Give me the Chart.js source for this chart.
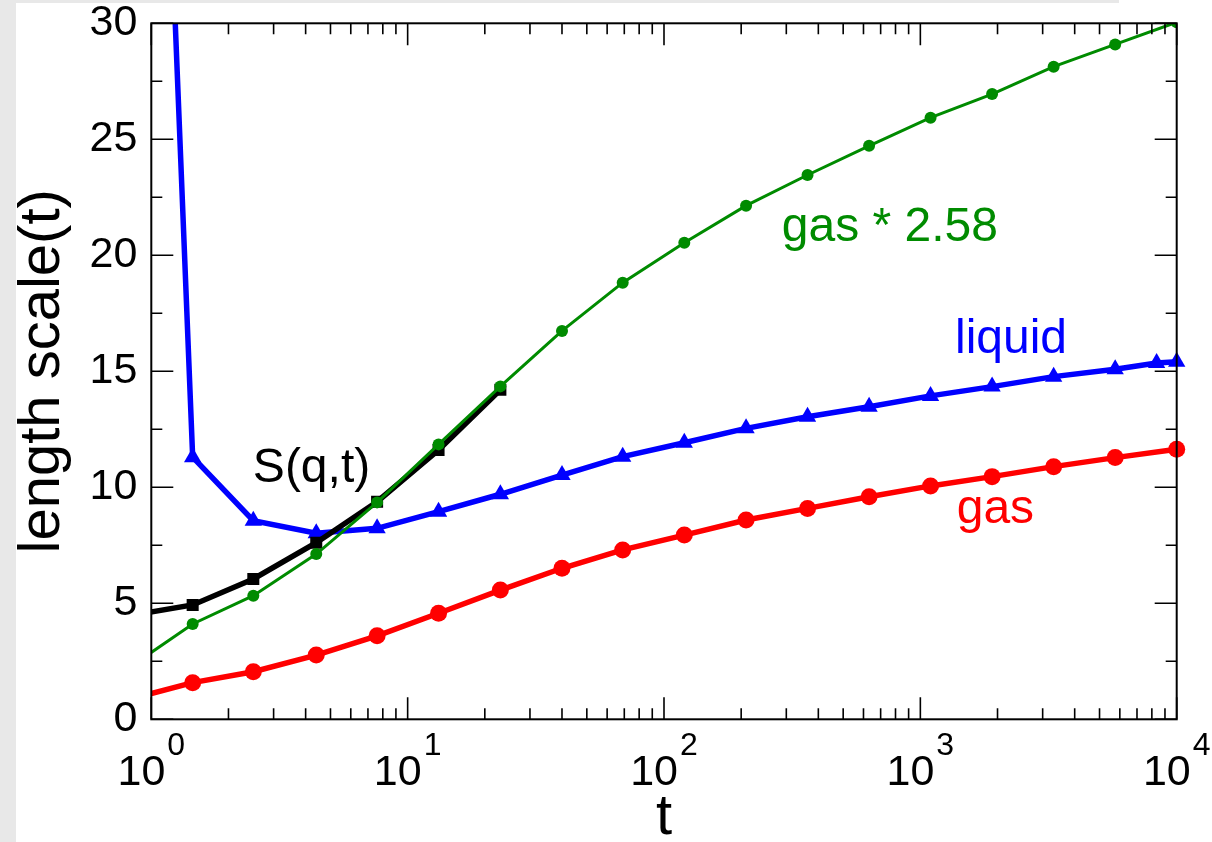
<!DOCTYPE html>
<html>
<head>
<meta charset="utf-8">
<script src="https://cdn.jsdelivr.net/npm/chart.js@4"></script>
<style>
    html, body { margin: 0; padding: 0; background: #ffffff; overflow: hidden; }
    #wrap { position: relative; width: 1212px; height: 842px; }
    .strip { position: absolute; background: #e8e8e8; }
    #leftStrip { left: 0; top: 0; width: 16px; height: 842px; }
    #topStrip { left: 0; top: 0; width: 1119px; height: 3px; }
    canvas { position: absolute; left: 0; top: 0; }
</style>
</head>
<body>
<div id="wrap">
    <div class="strip" id="leftStrip"></div>
    <div class="strip" id="topStrip"></div>
    <canvas id="lengthChart" width="1212" height="842"></canvas>
</div>
<script>
/* ---------------- DATA ---------------- */

// waiting times t (first point sits just left of the axis, off-chart)
const times = [0.83, 1.45, 2.5, 4.4, 7.6, 13.2, 23, 40, 69, 120, 209, 363, 631, 1096, 1905, 3311, 5754, 10000];

const gasValues = [0.88, 1.58, 2.05, 2.77, 3.60, 4.57, 5.57, 6.51, 7.30, 7.94, 8.59, 9.09, 9.59, 10.06, 10.46, 10.89, 11.28, 11.64];

const gasScaledValues = [2.27, 4.11, 5.33, 7.12, 9.35, 11.85, 14.35, 16.74, 18.82, 20.54, 22.14, 23.46, 24.72, 25.93, 26.95, 28.13, 29.09, 30.05];

const sqtTimes = [0.83, 1.45, 2.5, 4.4, 7.6, 13.2, 23];
const sqtValues = [4.48, 4.93, 6.05, 7.61, 9.38, 11.61, 14.2];

const liquidTimes = [0.83, 1.45, 2.5, 4.4, 7.6, 13.2, 23, 40, 69, 120, 209, 363, 631, 1096, 1905, 3311, 5754, 8350, 10000];
const liquidValues = [78, 11.3, 8.56, 8.02, 8.23, 8.95, 9.70, 10.53, 11.32, 11.92, 12.54, 13.04, 13.47, 13.94, 14.34, 14.77, 15.09, 15.36, 15.41];

const xDecades = [0, 1, 2, 3, 4];
const yTickStep = 2.5;

const labelTexts = ["S(q,t)", "gas * 2.58", "liquid", "gas"];
const labelColors = ["#000000", "#008b00", "#0000ff", "#ff0000"];
const labelAt = [[2.49, 10.23], [288, 20.63], [1365, 15.79], [1386, 8.45]];

/* ---------------- HELPERS ---------------- */

const FONT = "'Liberation Sans', Arial, Helvetica, sans-serif";

function toPoints(xs, ys) {
    return xs.map((x, i) => ({ x: x, y: ys[i] }));
}

/* ---------------- FRAME + TICKS ---------------- */

const framePlugin = {
    id: "frame",
    afterDatasetsDraw(chart) {
        const { ctx, chartArea: a, scales: { x, y } } = chart;
        ctx.save();
        ctx.strokeStyle = "#000";
        ctx.lineWidth = 1.6;
        ctx.beginPath();

        // log ticks on bottom and top
        xDecades.forEach(e => {
            for (let m = 1; m <= 9; m++) {
                if (e === 4 && m > 1) break;
                const px = x.getPixelForValue(m * Math.pow(10, e));
                const len = m === 1 ? 22 : 11;
                ctx.moveTo(px, a.bottom); ctx.lineTo(px, a.bottom - len);
                ctx.moveTo(px, a.top); ctx.lineTo(px, a.top + len);
            }
        });

        // linear ticks on left and right
        for (let v = 0; v <= 30; v += yTickStep) {
            const py = y.getPixelForValue(v);
            const len = v % 5 === 0 ? 22 : 11;
            ctx.moveTo(a.left, py); ctx.lineTo(a.left + len, py);
            ctx.moveTo(a.right, py); ctx.lineTo(a.right - len, py);
        }
        ctx.stroke();

        ctx.lineWidth = 2;
        ctx.strokeRect(a.left, a.top, a.right - a.left, a.bottom - a.top);
        ctx.restore();
    },

    afterDraw(chart) {
        const { ctx, chartArea: a, scales: { x, y } } = chart;
        ctx.save();
        ctx.fillStyle = "#000";
        ctx.textBaseline = "alphabetic";

        // 10^n tick labels
        xDecades.forEach(e => {
            const px = x.getPixelForValue(Math.pow(10, e));
            ctx.font = "43px " + FONT;
            const w1 = ctx.measureText("10").width;
            ctx.font = "32px " + FONT;
            const w2 = ctx.measureText(String(e)).width;
            const start = px - (w1 + 2 + w2) / 2;
            ctx.font = "43px " + FONT;
            ctx.textAlign = "left";
            ctx.fillText("10", start, a.bottom + 66);
            ctx.font = "32px " + FONT;
            ctx.fillText(String(e), start + w1 + 2, a.bottom + 36);
        });

        // curve labels
        ctx.font = "48px " + FONT;
        labelTexts.forEach((t, i) => {
            ctx.fillStyle = labelColors[i];
            ctx.fillText(t, x.getPixelForValue(labelAt[i][0]), y.getPixelForValue(labelAt[i][1]));
        });
        ctx.restore();
    }
};

/* ---------------- CHART ---------------- */

const ctx = document.getElementById("lengthChart").getContext("2d");

new Chart(ctx, {
    type: "line",
    data: {
        datasets: [
            {
                label: "gas * 2.58",
                data: toPoints(times, gasScaledValues),
                borderColor: "#008b00",
                backgroundColor: "#008b00",
                borderWidth: 3,
                pointStyle: "circle",
                pointRadius: 6,
                pointBorderWidth: 0,
                order: 1,
                clip: { left: 0, top: 0, right: 0, bottom: 0 }
            },
            {
                label: "S(q,t)",
                data: toPoints(sqtTimes, sqtValues),
                borderColor: "#000000",
                backgroundColor: "#000000",
                borderWidth: 5.5,
                pointStyle: "rect",
                pointRadius: 8.5,
                pointBorderWidth: 0,
                order: 2,
                clip: { left: 0, top: 0, right: 12, bottom: 0 }
            },
            {
                label: "liquid",
                data: toPoints(liquidTimes, liquidValues),
                borderColor: "#0000ff",
                backgroundColor: "#0000ff",
                borderWidth: 5.5,
                pointStyle: "triangle",
                pointRadius: 10,
                pointBorderWidth: 0,
                order: 3,
                clip: { left: 0, top: 0, right: 12, bottom: 0 }
            },
            {
                label: "gas",
                data: toPoints(times, gasValues),
                borderColor: "#ff0000",
                backgroundColor: "#ff0000",
                borderWidth: 5.5,
                pointStyle: "circle",
                pointRadius: 8.5,
                pointBorderWidth: 0,
                order: 4,
                clip: { left: 0, top: 0, right: 12, bottom: 0 }
            }
        ]
    },
    options: {
        responsive: false,
        animation: false,
        devicePixelRatio: 1,
        layout: {
            padding: { top: 23.3, right: 35.3, left: 0, bottom: 0 }
        },
        elements: {
            line: { tension: 0 }
        },
        plugins: {
            legend: { display: false },
            tooltip: { enabled: false }
        },
        scales: {
            x: {
                type: "logarithmic",
                min: 1,
                max: 10000,
                grid: { display: false, drawTicks: false },
                border: { display: false },
                ticks: { display: false },
                title: {
                    display: true,
                    text: "t",
                    color: "#000",
                    font: { family: FONT, size: 58, lineHeight: 0.6 },
                    padding: { top: 0, bottom: 6.6 }
                },
                afterFit(scale) {
                    scale.height = 122.7;
                    scale.paddingLeft = 0;
                    scale.paddingRight = 0;
                }
            },
            y: {
                min: 0,
                max: 30,
                grid: { display: false, drawTicks: false },
                border: { display: false },
                ticks: {
                    stepSize: 5,
                    color: "#000",
                    padding: 14,
                    font: { family: FONT, size: 43 }
                },
                title: {
                    display: true,
                    text: "length scale(t)",
                    color: "#000",
                    font: { family: FONT, size: 58, lineHeight: 0.6 },
                    padding: { top: 25.6, bottom: 0 }
                },
                afterFit(scale) {
                    scale.width = 151.3;
                    scale.paddingTop = 0;
                    scale.paddingBottom = 0;
                }
            }
        }
    },
    plugins: [framePlugin]
});
</script>
</body>
</html>
